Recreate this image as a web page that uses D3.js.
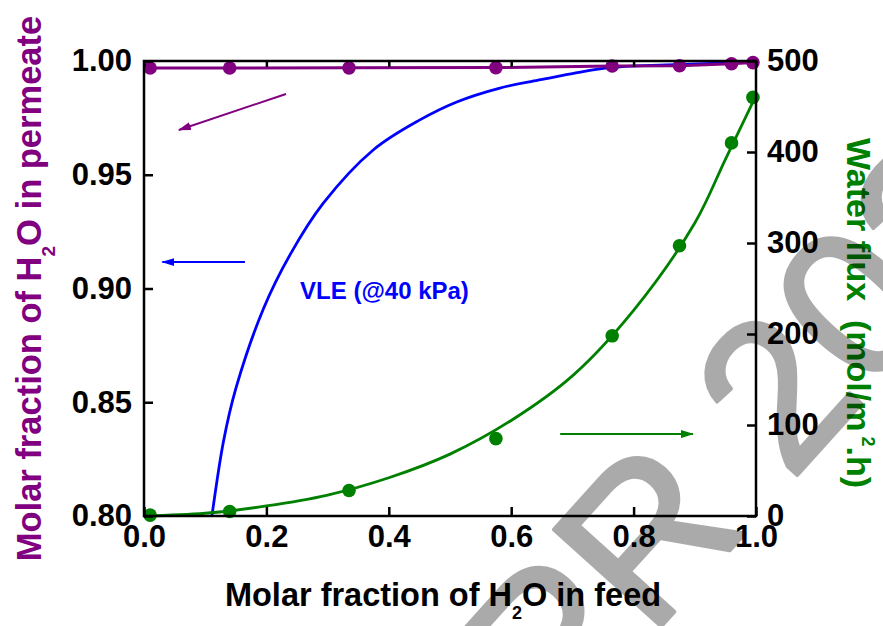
<!DOCTYPE html>
<html>
<head>
<meta charset="utf-8">
<script src="https://cdn.jsdelivr.net/npm/d3@7"></script>
<style>
  html, body { margin: 0; padding: 0; background: #fff; }
  svg { display: block; font-family: "Liberation Sans", Arial, sans-serif; }
  .pre { white-space: pre; }
</style>
</head>
<body>
<div id="chart"></div>
<script>
// Feed composition of the measured points (x axis).
const feedX = [0.01, 0.14, 0.335, 0.575, 0.765, 0.875, 0.96, 0.995];
// Permeate water fraction (left axis).
const permeateY = [0.9969, 0.9969, 0.9970, 0.9971, 0.9978, 0.9979, 0.9988, 0.9993];
// Water flux, mol/m2.h (right axis).
const fluxY = [1, 5, 28, 85, 198, 297, 410, 460];
// Fitted flux curve.
const fitX = [0, 0.1, 0.2, 0.3, 0.4, 0.5, 0.6, 0.7, 0.8, 0.9, 0.95, 1.0];
const fitY = [0, 3, 11, 23, 42, 68, 105, 154, 226, 322, 392, 462];
// VLE curve at 40 kPa (left axis).
const vleX = [0.111, 0.13, 0.15, 0.195, 0.239, 0.293, 0.375, 0.45, 0.511, 0.58, 0.644, 0.70, 0.764, 0.877, 1.0];
const vleY = [0.800, 0.833, 0.856, 0.891, 0.915, 0.9375, 0.961, 0.974, 0.982, 0.988, 0.9916, 0.9945, 0.9972, 0.9985, 0.9995];
// Tick values.
const xTicks = [0, 0.2, 0.4, 0.6, 0.8, 1.0];
const leftTicks = [0.80, 0.85, 0.90, 0.95, 1.00];
const rightTicks = [0, 100, 200, 300, 400, 500];

const width = 883, height = 626;
const margin = { top: 61, right: 127, bottom: 110, left: 144 };
const purple = "#800080", blue = "#0000ff", green = "#008000";

const svg = d3.select("#chart").append("svg")
  .attr("width", width)
  .attr("height", height);

const x = d3.scaleLinear().domain([0, 1]).range([margin.left, width - margin.right]);
const yL = d3.scaleLinear().domain([0.8, 1.0]).range([height - margin.bottom, margin.top]);
const yR = d3.scaleLinear().domain([0, 500]).range([height - margin.bottom, margin.top]);

// Arrow heads.
const defs = svg.append("defs");
[["purple", purple], ["blue", blue], ["green", green]].forEach(([id, c]) => {
  defs.append("marker")
    .attr("id", "arrow-" + id)
    .attr("markerUnits", "userSpaceOnUse")
    .attr("markerWidth", 13).attr("markerHeight", 8)
    .attr("refX", 12).attr("refY", 4)
    .attr("orient", "auto")
    .append("path").attr("d", "M0,0 L13,4 L0,8 Z").attr("fill", c);
});

// VLE curve.
svg.append("path")
  .datum(vleX.map((d, i) => [d, vleY[i]]))
  .attr("fill", "none")
  .attr("stroke", blue)
  .attr("stroke-width", 2.8)
  .attr("d", d3.line().x(d => x(d[0])).y(d => yL(d[1])).curve(d3.curveCatmullRom.alpha(0.5)));

// Flux fit curve and points.
svg.append("path")
  .datum(fitX.map((d, i) => [d, fitY[i]]))
  .attr("fill", "none")
  .attr("stroke", green)
  .attr("stroke-width", 2.8)
  .attr("d", d3.line().x(d => x(d[0])).y(d => yR(d[1])).curve(d3.curveCatmullRom.alpha(0.5)));
svg.append("g").selectAll("circle")
  .data(feedX)
  .join("circle")
  .attr("cx", d => x(d))
  .attr("cy", (d, i) => yR(fluxY[i]))
  .attr("r", 6.8)
  .attr("fill", green);

// Permeate line and points.
svg.append("path")
  .datum(feedX.map((d, i) => [d, permeateY[i]]))
  .attr("fill", "none")
  .attr("stroke", purple)
  .attr("stroke-width", 3)
  .attr("d", d3.line().x(d => x(d[0])).y(d => yL(d[1])));
svg.append("g").selectAll("circle")
  .data(feedX)
  .join("circle")
  .attr("cx", d => x(d))
  .attr("cy", (d, i) => yL(permeateY[i]))
  .attr("r", 6.8)
  .attr("fill", purple);

// Arrows pointing at the axis each series belongs to.
const arrows = [
  { x1: 0.232, y1: yL(0.9855), x2: 0.057, y2: yL(0.9697), id: "purple", c: purple },
  { x1: 0.165, y1: yL(0.9116), x2: 0.03, y2: yL(0.9116), id: "blue", c: blue },
  { x1: 0.68, y1: yR(90), x2: 0.897, y2: yR(90), id: "green", c: green }
];
svg.append("g").selectAll("line")
  .data(arrows)
  .join("line")
  .attr("x1", d => x(d.x1)).attr("y1", d => d.y1)
  .attr("x2", d => x(d.x2)).attr("y2", d => d.y2)
  .attr("stroke", d => d.c)
  .attr("stroke-width", 2)
  .attr("marker-end", d => `url(#arrow-${d.id})`);

svg.append("text")
  .attr("x", x(0.255))
  .attr("y", yL(0.8954))
  .attr("fill", blue)
  .attr("font-size", 24)
  .attr("font-weight", "bold")
  .text("VLE (@40 kPa)");

// Axes, ticks inside.
const styleAxis = g => {
  g.select(".domain").remove();
  g.selectAll(".tick line").attr("stroke", "#000").attr("stroke-width", 2.5);
  g.selectAll(".tick text")
    .attr("fill", "#000")
    .attr("font-size", 31)
    .attr("font-weight", "bold")
    .attr("font-family", "'Liberation Sans', Arial, sans-serif");
};
const y0 = height - margin.bottom;
svg.append("g")
  .attr("transform", `translate(0,${y0})`)
  .call(d3.axisBottom(x).tickValues(xTicks).tickFormat(d3.format(".1f"))
    .tickSizeInner(-9).tickSizeOuter(0).tickPadding(9))
  .call(styleAxis);
svg.append("g")
  .attr("transform", `translate(0,${margin.top})`)
  .call(d3.axisTop(x).tickValues(xTicks).tickFormat("")
    .tickSizeInner(-6).tickSizeOuter(0))
  .call(styleAxis);
svg.append("g")
  .attr("transform", `translate(${margin.left},0)`)
  .call(d3.axisLeft(yL).tickValues(leftTicks).tickFormat(d3.format(".2f"))
    .tickSizeInner(-9).tickSizeOuter(0).tickPadding(12))
  .call(styleAxis);
svg.append("g")
  .attr("transform", `translate(${width - margin.right},0)`)
  .call(d3.axisRight(yR).tickValues(rightTicks).tickFormat(d3.format("d"))
    .tickSizeInner(-9).tickSizeOuter(0).tickPadding(11))
  .call(styleAxis);

// Frame.
svg.append("rect")
  .attr("x", margin.left).attr("y", margin.top)
  .attr("width", width - margin.left - margin.right)
  .attr("height", height - margin.top - margin.bottom)
  .attr("fill", "none")
  .attr("stroke", "#000")
  .attr("stroke-width", 2.5);

// Axis titles.
const xTitle = svg.append("text")
  .attr("x", 443).attr("y", 606)
  .attr("text-anchor", "middle")
  .attr("font-size", 32.5).attr("font-weight", "bold")
  .attr("fill", "#000");
xTitle.append("tspan").text("Molar fraction of H");
xTitle.append("tspan").attr("font-size", 18).attr("dy", 13).text("2");
xTitle.append("tspan").attr("dy", -13).text("O in feed");

const yTitle = svg.append("text")
  .attr("transform", `translate(41,${(margin.top + y0) / 2}) rotate(-90)`)
  .attr("text-anchor", "middle")
  .attr("font-size", 34.5).attr("font-weight", "bold")
  .attr("fill", purple);
yTitle.append("tspan").text("Molar fraction of H");
yTitle.append("tspan").attr("font-size", 19).attr("dy", 14).text("2");
yTitle.append("tspan").attr("dy", -14).text("O in permeate");

const rTitle = svg.append("text")
  .attr("class", "pre")
  .attr("transform", `translate(847,313) rotate(90)`)
  .attr("text-anchor", "middle")
  .attr("font-size", 34).attr("font-weight", "bold")
  .attr("fill", green);
rTitle.append("tspan").text("Water flux  (mol/m");
rTitle.append("tspan").attr("font-size", 18).attr("dy", -15).text(" 2");
rTitle.append("tspan").attr("dy", 15).text(".h)");

// Watermark, drawn over the chart in translucent grey.
svg.append("g")
  .attr("opacity", 0.33)
  .append("text")
  .attr("class", "pre")
  .attr("transform", "translate(556,743) rotate(-48)")
  .attr("font-size", 210)
  .attr("font-family", "'Liberation Sans', Arial, sans-serif")
  .attr("fill", "#000")
  .attr("stroke", "#000")
  .attr("stroke-width", 4)
  .attr("stroke-linejoin", "round")
  .text("PR 2023");
</script>
</body>
</html>
